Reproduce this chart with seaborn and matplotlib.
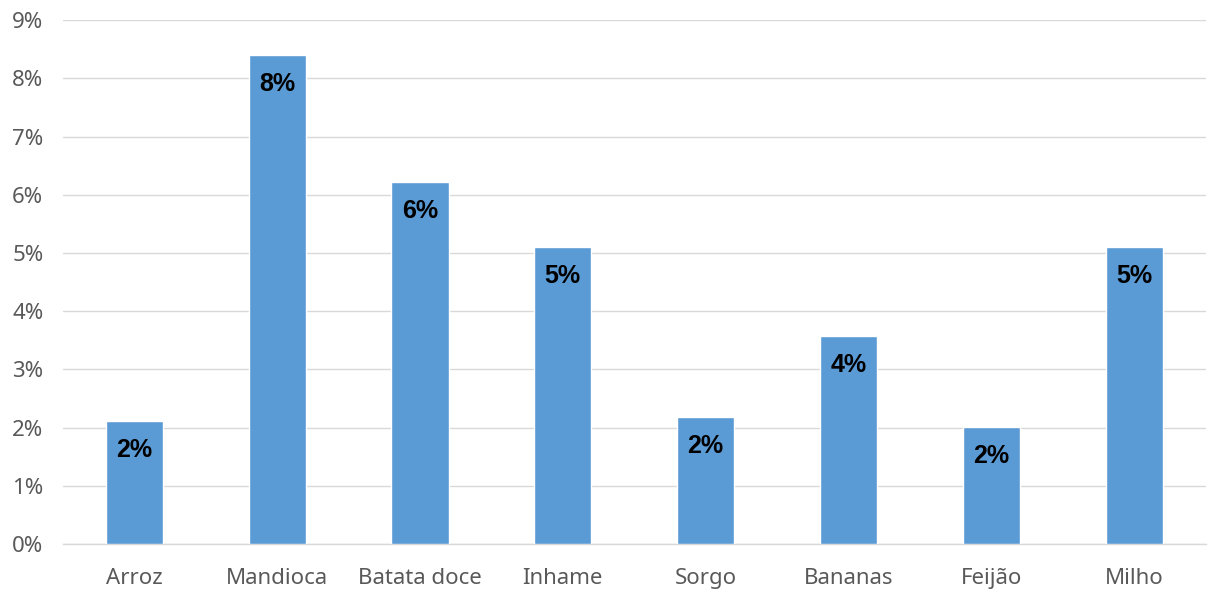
import matplotlib
matplotlib.use("Agg")
import matplotlib.pyplot as plt
import seaborn as sns
import pandas as pd
from matplotlib.ticker import FuncFormatter, MultipleLocator

# Crop shares (%)
crops = ["Arroz", "Mandioca", "Batata doce", "Inhame", "Sorgo", "Bananas", "Feijão", "Milho"]
shares = [2.11, 8.40, 6.22, 5.10, 2.18, 3.57, 2.01, 5.10]

df = pd.DataFrame({"crop": crops, "share": shares})

sns.set_theme(style="white")
plt.rcParams["font.family"] = ["Noto Sans", "DejaVu Sans"]

fig = plt.figure(figsize=(12.08, 5.92), dpi=100)
ax = fig.add_axes([0.052, 0.081, 0.946, 0.885])

sns.barplot(data=df, x="crop", y="share", color="#5B9BD5", saturation=1,
            width=0.4, ax=ax, zorder=3)

ax.set_ylim(0, 9)
ax.set_xlim(-0.5, len(crops) - 0.5)
ax.yaxis.set_major_locator(MultipleLocator(1))
ax.yaxis.set_major_formatter(FuncFormatter(lambda v, _: f"{v:.0f}%"))
ax.grid(axis="y", color="#D9D9D9", linewidth=1.0, zorder=0)
ax.set_axisbelow(True)
for s in ["top", "right", "left"]:
    ax.spines[s].set_visible(False)
ax.spines["bottom"].set_color("#D9D9D9")
ax.spines["bottom"].set_linewidth(1.0)

ax.set_xlabel("")
ax.set_ylabel("")
ax.tick_params(axis="both", length=0, labelsize=16, labelcolor="#595959")
ax.tick_params(axis="x", pad=17)
ax.tick_params(axis="y", pad=14)

for i, v in enumerate(shares):
    ax.annotate(f"{round(v):.0f}%", xy=(i, v), xytext=(0, -21),
                textcoords="offset points", ha="center", va="center",
                fontsize=18, fontweight="bold", color="black",
                family=["Liberation Sans", "DejaVu Sans"], zorder=4)

fig.savefig("out.png", dpi=100)
